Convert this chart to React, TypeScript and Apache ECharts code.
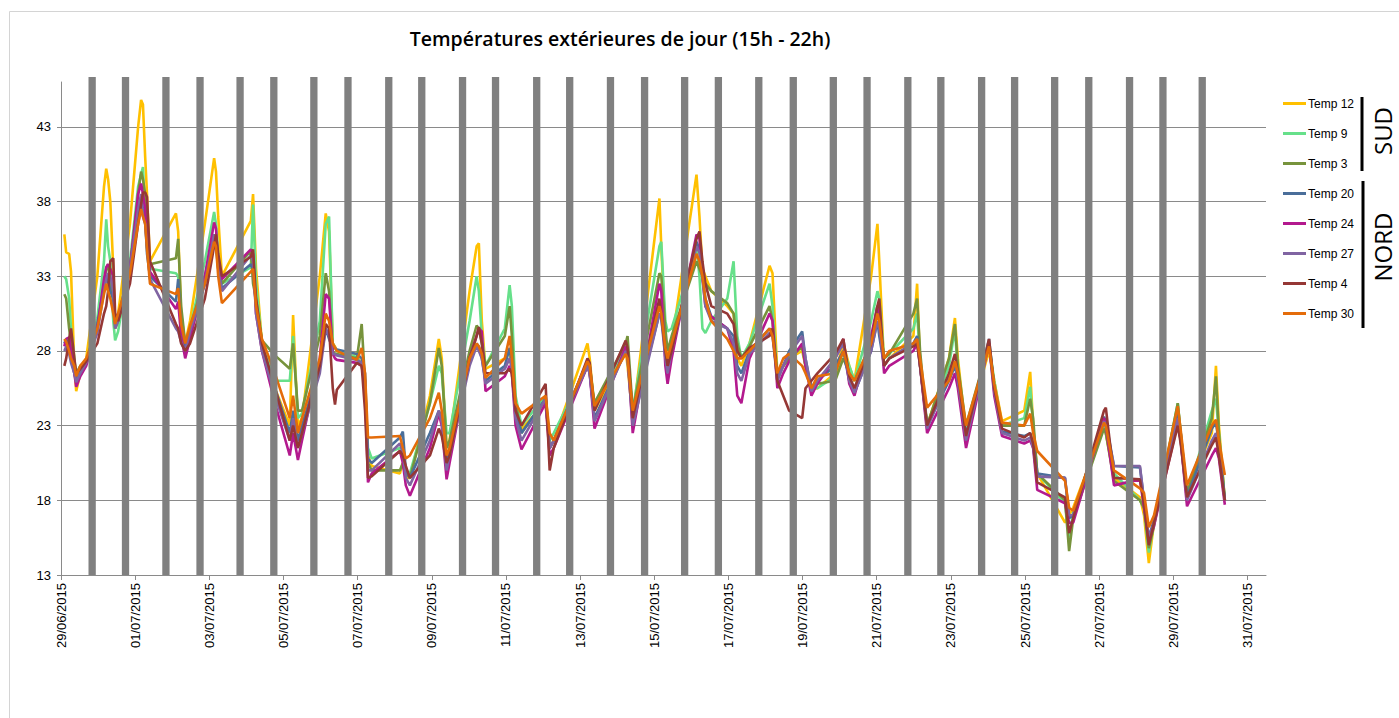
import React, { useEffect, useRef } from "react";
import * as echarts from "echarts";

// X positions of the readings, in days since 29/06/2015 00:00
const dayOffsets = [
  0.09, 0.14, 0.22, 0.27, 0.36, 0.41, 0.52, 0.68, 0.98, 1.16,
  1.22, 1.27, 1.33, 1.41, 1.46, 1.54, 1.86, 2.08, 2.16, 2.21,
  2.27, 2.32, 2.40, 3.10, 3.16, 3.24, 3.35, 3.48, 3.88, 4.13,
  4.18, 4.24, 4.34, 5.12, 5.18, 5.26, 5.42, 5.77, 6.17, 6.26,
  6.39, 6.50, 6.98, 7.14, 7.23, 7.33, 7.39, 7.44, 7.98, 8.11,
  8.20, 8.28, 8.38, 9.14, 9.22, 9.30, 9.41, 9.95, 10.19, 10.27,
  10.40, 10.48, 11.02, 11.21, 11.27, 11.35, 11.45, 11.97, 12.10, 12.16,
  12.26, 12.42, 13.07, 13.18, 13.29, 14.20, 14.26, 14.39, 15.23, 15.28,
  15.42, 16.14, 16.19, 16.30, 16.36, 16.47, 17.14, 17.22, 17.30, 17.38,
  17.54, 17.97, 18.14, 18.24, 18.35, 18.57, 19.11, 19.19, 19.32, 19.48,
  19.64, 19.99, 20.08, 20.24, 20.40, 20.88, 21.10, 21.26, 21.40, 21.85,
  22.02, 22.07, 22.20, 22.34, 22.99, 23.09, 23.17, 23.36, 23.95, 24.11,
  24.19, 24.41, 25.03, 25.17, 25.38, 25.98, 26.14, 26.22, 26.33, 27.08,
  27.19, 27.30, 28.13, 28.18, 28.40, 29.10, 29.21, 29.34, 29.48, 30.12,
  30.20, 30.37, 31.04, 31.15, 31.23, 31.39,
];

const temp12 = [
  35.8, 34.6, 34.5, 33.3, 27.0, 25.3, 26.5, 27.5, 33.0, 39.0,
  40.2, 39.5, 38.0, 33.5, 30.0, 30.5, 36.5, 43.0, 44.8, 44.5,
  41.0, 38.5, 34.0, 37.2, 36.0, 30.5, 28.5, 30.0, 36.5, 40.9,
  40.0, 37.0, 33.0, 36.7, 38.5, 33.5, 28.5, 25.5, 23.0, 30.4,
  23.0, 23.5, 33.0, 37.2, 36.0, 28.5, 28.3, 28.0, 27.8, 27.0,
  26.0, 21.0, 20.3, 19.8, 20.5, 19.5, 19.5, 25.0, 28.8, 27.5,
  21.5, 22.0, 32.0, 35.0, 35.2, 30.0, 26.8, 27.5, 28.0, 26.5,
  24.0, 22.8, 24.5, 21.5, 22.0, 28.5, 27.5, 24.0, 28.0, 27.0,
  23.5, 38.2, 35.0, 29.0, 27.5, 28.5, 39.8, 37.0, 33.5, 33.0,
  32.0, 31.0, 30.5, 27.5, 27.0, 28.5, 33.7, 33.2, 26.5, 27.0,
  27.5, 28.0, 27.0, 25.5, 25.5, 26.5, 28.5, 27.0, 26.0, 33.0,
  36.5, 34.0, 27.0, 27.5, 29.0, 32.5, 27.0, 23.0, 27.5, 30.2,
  27.5, 22.5, 28.0, 26.0, 23.3, 24.0, 26.6, 23.0, 19.8, 16.5,
  17.0, 17.5, 23.0, 22.5, 19.5, 18.2, 17.0, 13.8, 16.5, 23.5,
  22.0, 18.5, 22.5, 27.0, 23.0, 18.0,
];

const temp9 = [
  33.0, 32.8, 31.5, 29.5, 27.5, 26.2, 26.7, 27.2, 30.2, 34.0,
  36.8, 35.0, 34.0, 30.0, 28.7, 29.3, 34.0, 39.0, 39.8, 40.3,
  37.0, 35.0, 33.5, 33.2, 33.0, 29.5, 28.5, 29.5, 34.0, 37.3,
  36.5, 34.5, 32.5, 33.6, 37.8, 32.5, 28.5, 26.0, 26.0, 29.0,
  23.5, 23.8, 30.0, 36.5, 37.0, 28.5, 28.2, 28.0, 27.6, 27.0,
  25.5, 21.5, 20.8, 21.5, 21.0, 20.0, 19.8, 24.5, 27.0, 26.5,
  22.5, 22.5, 30.0, 33.0, 32.0, 29.0, 27.0, 29.5, 32.4, 31.0,
  25.0, 23.0, 25.0, 22.0, 22.5, 27.0, 27.0, 24.5, 28.2, 28.0,
  24.0, 35.0, 35.3, 30.0, 29.3, 29.5, 35.0, 33.0, 29.5, 29.2,
  30.0, 31.5, 34.0, 29.0, 27.5, 28.5, 32.5, 31.0, 26.0, 27.0,
  27.5, 28.3, 27.0, 25.5, 25.5, 26.3, 28.0, 27.0, 26.0, 30.0,
  32.0, 31.5, 27.5, 27.8, 29.5, 30.5, 27.5, 23.0, 27.0, 29.5,
  26.5, 22.5, 28.5, 26.0, 23.0, 23.5, 25.6, 23.0, 19.8, 17.8,
  15.5, 17.2, 23.0, 22.5, 19.8, 18.0, 17.5, 14.5, 16.5, 24.5,
  22.5, 18.3, 24.0, 24.8, 22.5, 18.0,
];

const temp3 = [
  31.8, 31.5, 29.5, 28.5, 27.3, 26.5, 27.0, 27.3, 29.5, 32.5,
  33.5, 33.8, 32.5, 31.5, 29.5, 30.0, 33.5, 38.5, 40.0, 39.5,
  38.5, 36.0, 33.8, 34.2, 35.5, 31.0, 28.5, 29.5, 33.0, 35.8,
  35.0, 34.0, 32.5, 34.7, 32.5, 31.5, 28.7, 27.7, 26.8, 28.5,
  24.0, 24.0, 29.0, 33.2, 32.0, 28.0, 27.8, 27.8, 27.5, 29.8,
  26.0, 20.5, 20.0, 20.0, 20.5, 19.8, 19.5, 24.5, 28.2, 27.0,
  21.5, 22.0, 28.0, 29.7, 29.5, 28.5, 27.0, 29.0, 31.0, 29.0,
  24.5, 22.5, 24.8, 21.5, 22.0, 27.0, 26.5, 24.5, 28.5, 29.0,
  24.0, 33.2, 33.0, 29.5, 28.0, 29.0, 34.0, 33.5, 33.0, 32.5,
  32.0, 31.2, 30.5, 28.5, 27.5, 28.3, 31.0, 30.0, 26.5, 27.0,
  27.5, 28.3, 27.0, 25.5, 25.8, 26.0, 27.5, 26.5, 26.0, 28.5,
  31.0, 30.0, 27.5, 27.8, 30.5, 31.5, 28.0, 23.0, 27.5, 29.8,
  27.0, 23.0, 28.5, 25.5, 23.0, 23.0, 24.8, 23.5, 19.8, 18.0,
  14.6, 16.8, 22.8, 22.5, 19.3, 18.0, 17.5, 14.8, 16.3, 24.5,
  22.5, 18.5, 23.5, 26.3, 22.5, 18.0,
];

const temp20 = [
  28.5, 28.8, 28.3, 27.5, 26.5, 26.0, 26.8, 27.3, 29.8, 32.3,
  33.0, 32.6, 32.0, 31.5, 29.8, 30.2, 33.7, 37.5, 38.2, 37.5,
  36.8, 34.5, 33.0, 31.3, 32.8, 29.5, 28.2, 29.0, 32.5, 35.3,
  35.0, 33.5, 32.2, 33.8, 33.5, 31.0, 28.3, 25.5, 22.5, 24.0,
  22.0, 23.0, 27.0, 29.5, 28.8, 28.2, 28.2, 28.1, 27.8, 27.5,
  26.5, 20.8, 20.5, 22.2, 22.6, 20.0, 19.5, 22.5, 24.0, 23.5,
  20.5, 21.5, 27.5, 28.5, 28.3, 27.5, 26.0, 27.0, 28.2, 27.0,
  24.0, 22.5, 24.8, 21.5, 22.0, 27.3, 26.5, 23.5, 28.0, 27.5,
  23.5, 30.5, 30.2, 28.0, 26.5, 28.0, 35.3, 34.8, 33.0, 31.5,
  30.3, 29.5, 29.0, 27.0, 26.5, 28.0, 29.5, 29.2, 26.3, 27.0,
  28.0, 29.3, 27.5, 25.5, 26.0, 27.0, 28.0, 26.0, 25.2, 28.0,
  30.0, 29.0, 27.0, 27.5, 28.5, 29.0, 27.0, 23.0, 26.0, 27.0,
  26.0, 22.3, 28.8, 25.5, 22.6, 22.3, 22.5, 21.8, 19.8, 19.5,
  16.8, 17.0, 23.6, 23.3, 20.3, 20.2, 18.0, 15.5, 16.7, 23.8,
  22.5, 18.2, 22.8, 23.2, 21.8, 18.0,
];

const temp24 = [
  28.3, 28.8, 28.9, 28.0, 26.5, 25.6, 26.3, 27.0, 29.5, 32.8,
  33.6, 33.8, 33.5, 33.0, 30.0, 30.0, 33.5, 38.5, 39.2, 38.5,
  37.5, 35.5, 33.3, 30.8, 31.3, 29.0, 27.5, 28.8, 33.0, 36.6,
  36.2, 34.0, 32.8, 34.8, 34.5, 30.5, 28.0, 24.5, 21.0, 22.5,
  20.7, 22.0, 27.5, 31.8, 31.5, 27.8, 27.5, 27.4, 27.2, 27.0,
  25.5, 19.2, 19.8, 21.3, 20.5, 19.0, 18.3, 21.5, 23.8, 23.0,
  19.4, 20.5, 27.5, 29.0, 29.5, 29.3, 25.3, 26.3, 27.0, 26.5,
  23.0, 21.4, 24.5, 21.0, 21.5, 27.0, 26.5, 22.8, 28.3, 28.0,
  22.5, 32.5, 32.0, 27.0, 25.8, 27.5, 35.8, 35.5, 33.0, 31.0,
  30.3, 29.5, 28.0, 25.0, 24.5, 27.5, 30.5, 30.0, 25.5, 26.5,
  27.3, 28.5, 27.0, 25.0, 25.8, 27.5, 28.8, 25.8, 25.0, 29.0,
  31.0, 30.5, 26.5, 27.0, 28.0, 28.5, 27.0, 22.5, 25.5, 26.5,
  25.5, 21.5, 28.5, 25.0, 22.3, 21.8, 22.0, 21.5, 18.7, 17.8,
  16.5, 16.5, 23.5, 23.0, 19.0, 19.4, 17.5, 15.3, 16.3, 23.2,
  22.0, 17.6, 21.0, 21.5, 20.8, 17.7,
];

const temp27 = [
  28.0, 28.3, 27.8, 27.2, 26.5, 25.9, 26.5, 27.2, 29.2, 32.0,
  32.8, 33.2, 33.0, 32.0, 29.5, 30.0, 33.5, 37.5, 38.5, 37.0,
  36.5, 35.0, 32.8, 29.5, 29.3, 28.6, 28.0, 29.3, 32.5, 35.8,
  35.5, 33.5, 32.0, 34.4, 34.0, 30.5, 28.0, 25.0, 22.0, 23.5,
  21.5, 22.5, 26.5, 29.5, 29.0, 27.8, 27.8, 27.7, 27.4, 27.2,
  26.0, 20.0, 20.0, 21.8, 21.2, 19.5, 19.0, 22.0, 24.0, 23.2,
  20.0, 21.0, 27.0, 28.3, 28.0, 27.5, 25.8, 26.8, 27.5, 26.8,
  23.5, 22.0, 24.8, 21.5, 22.0, 27.0, 26.5, 23.3, 28.0, 27.5,
  23.0, 30.5, 30.2, 27.5, 26.5, 28.0, 35.0, 34.6, 32.8, 31.0,
  30.0, 29.5, 28.5, 26.5, 26.0, 27.8, 29.2, 29.0, 26.0, 27.0,
  27.8, 29.0, 27.5, 25.3, 26.0, 27.5, 28.5, 26.0, 25.2, 28.0,
  30.0, 29.5, 27.0, 27.5, 28.5, 28.8, 27.0, 22.8, 26.3, 27.3,
  26.0, 22.0, 28.5, 25.3, 22.5, 22.0, 22.2, 21.5, 19.6, 19.5,
  17.0, 17.0, 23.3, 23.0, 20.3, 20.3, 18.0, 15.5, 16.5, 23.5,
  22.0, 18.0, 22.0, 22.5, 21.2, 18.0,
];

const temp4 = [
  27.0, 27.5, 28.8, 29.5, 27.5, 26.5, 26.8, 27.3, 28.5, 30.5,
  31.0, 32.0, 34.0, 34.2, 30.5, 30.0, 32.5, 36.5, 37.8, 38.6,
  38.6, 38.3, 34.0, 29.8, 29.5, 28.5, 28.0, 28.5, 31.5, 35.0,
  35.8, 34.5, 33.0, 34.3, 34.8, 31.5, 28.5, 25.5, 22.0, 23.0,
  21.5, 22.5, 27.0, 29.8, 29.5, 25.5, 24.4, 25.4, 27.2, 27.0,
  24.0, 19.5, 19.6, 21.3, 21.0, 20.3, 19.5, 21.0, 22.8, 22.3,
  20.5, 21.0, 27.5, 29.0, 29.6, 28.5, 26.5, 26.5, 26.8, 26.5,
  24.0, 23.0, 25.8, 20.0, 21.5, 27.5, 27.2, 24.0, 28.7, 28.2,
  23.5, 31.5, 30.5, 28.0, 27.0, 28.0, 35.5, 36.0, 34.0, 32.5,
  31.0, 30.5, 29.8, 28.0, 27.5, 28.2, 29.0, 29.5, 26.0, 25.0,
  24.0, 23.5, 25.5, 26.0, 26.5, 27.8, 28.8, 26.3, 25.5, 28.5,
  31.0, 31.5, 27.0, 27.5, 28.3, 28.5, 27.0, 23.0, 26.5, 27.8,
  26.5, 22.3, 28.8, 25.5, 22.8, 22.2, 22.5, 21.8, 19.2, 18.2,
  15.8, 16.8, 24.0, 24.2, 19.5, 19.4, 17.8, 15.0, 16.5, 23.0,
  21.8, 18.2, 21.7, 22.2, 21.0, 18.0,
];

const temp30 = [
  28.8, 28.6, 28.0, 27.5, 27.0, 26.3, 27.0, 27.5, 29.5, 31.8,
  32.5, 32.0, 31.5, 30.5, 29.8, 30.5, 33.2, 36.5, 37.5, 37.0,
  36.5, 34.8, 32.5, 31.8, 32.2, 29.8, 28.5, 29.7, 32.5, 35.3,
  35.0, 33.0, 31.2, 33.3, 33.5, 31.0, 28.8, 26.5, 23.5, 25.0,
  22.5, 23.5, 27.5, 30.5, 30.0, 28.5, 28.2, 28.0, 27.4, 28.2,
  26.5, 22.2, 22.2, 22.3, 21.5, 20.8, 21.0, 23.5, 25.2, 24.0,
  21.0, 21.5, 27.5, 28.5, 28.3, 27.8, 26.2, 27.5, 29.0, 27.5,
  24.5, 23.8, 25.0, 22.5, 22.0, 27.3, 27.0, 24.3, 27.8, 27.5,
  24.0, 31.0, 30.5, 28.2, 27.5, 28.5, 34.5, 34.0, 33.0, 31.5,
  30.0, 28.8, 28.0, 27.5, 27.5, 28.0, 29.5, 29.0, 26.5, 27.5,
  27.8, 27.0, 26.5, 25.5, 26.3, 26.5, 28.0, 26.5, 26.0, 28.5,
  30.5, 30.0, 27.5, 28.0, 28.5, 28.8, 27.5, 24.2, 26.0, 27.3,
  26.5, 23.0, 28.3, 25.8, 23.2, 23.0, 23.8, 22.5, 21.3, 19.3,
  17.5, 17.3, 23.2, 23.0, 20.0, 18.8, 18.5, 16.2, 17.0, 24.3,
  22.7, 19.0, 23.0, 23.4, 22.0, 19.7,
];

// Gray separator columns (days since 29/06/2015), all reaching the same height
const nightMarks = [
  0.84, 1.74, 2.83, 3.75, 4.83, 5.74, 6.82, 7.74, 8.84, 9.73,
  10.83, 11.72, 12.83, 13.72, 14.82, 15.74, 16.82, 17.73, 18.82, 19.75,
  20.83, 21.74, 22.84, 23.73, 24.83, 25.72, 26.80, 27.72, 28.82, 29.72,
  30.78,
];
const nightMarkTop = 46.33;

const seriesNames = ["Temp 12", "Temp 9", "Temp 3", "Temp 20", "Temp 24", "Temp 27", "Temp 4", "Temp 30"];
const seriesValues = [temp12, temp9, temp3, temp20, temp24, temp27, temp4, temp30];
const seriesColors = ["#FFC000", "#66E08A", "#77933C", "#4A6E9A", "#B3198E", "#8064A2", "#953735", "#E46C0A"];

const dateLabels = [
  "29/06/2015", "01/07/2015", "03/07/2015", "05/07/2015", "07/07/2015", "09/07/2015",
  "11/07/2015", "13/07/2015", "15/07/2015", "17/07/2015", "19/07/2015", "21/07/2015",
  "23/07/2015", "25/07/2015", "27/07/2015", "29/07/2015", "31/07/2015",
];
const xTickValues = dateLabels.map((_, i) => i * 2);
const yTicks = [13, 18, 23, 28, 33, 38, 43];
const Y_MIN = 13;
const Y_MAX = 46;
const X_MAX = 32.5;

const title = "Températures extérieures de jour (15h - 22h)";

export default function App() {
  const ref = useRef<HTMLDivElement>(null);

  useEffect(() => {
    if (!ref.current) return;
    const chart = echarts.init(ref.current, undefined, { renderer: "svg" });

    const lineSeries = seriesNames.map((name, si) => ({
      type: "line",
      name,
      data: dayOffsets.map((d, i) => [d, seriesValues[si][i]]),
      symbol: "none",
      showSymbol: false,
      lineStyle: { width: 2.6, color: seriesColors[si] },
      itemStyle: { color: seriesColors[si] },
      z: 3,
      silent: true,
    }));

    const option: any = {
      animation: false,
      backgroundColor: "#ffffff",
      grid: { left: 61, right: 133, top: 82, bottom: 143, containLabel: false },
      xAxis: {
        type: "value",
        min: 0,
        max: X_MAX,
        interval: 2,
        axisLine: { show: true, lineStyle: { color: "#8a8a8a", width: 1 } },
        axisTick: { show: true, length: 5, lineStyle: { color: "#8a8a8a" }, customValues: xTickValues },
        axisLabel: {
          customValues: xTickValues,
          rotate: 90,
          margin: 8,
          fontSize: 13,
          fontFamily: "'Liberation Sans', Arial, sans-serif",
          color: "#000",
          formatter: (v: number) => {
            const idx = Math.round(v / 2);
            return Math.abs(v - idx * 2) < 1e-6 && dateLabels[idx] ? dateLabels[idx] : "";
          },
        },
        splitLine: { show: false },
      },
      yAxis: {
        type: "value",
        min: Y_MIN,
        max: Y_MAX,
        interval: 5,
        axisLine: { show: true, lineStyle: { color: "#8a8a8a", width: 1 } },
        axisTick: { show: true, length: 4, lineStyle: { color: "#8a8a8a" }, customValues: yTicks },
        axisLabel: {
          customValues: yTicks,
          margin: 10,
          fontSize: 13,
          fontFamily: "'Liberation Sans Narrow', 'Liberation Sans', Arial, sans-serif",
          color: "#000",
          formatter: (v: number) => (yTicks.includes(v) ? String(v) : ""),
        },
        splitLine: { show: false },
      },
      legend: {
        orient: "vertical",
        left: 1283,
        top: 96.5,
        padding: 0,
        icon: "rect",
        itemWidth: 23,
        itemHeight: 3,
        itemGap: 16,
        data: seriesNames,
        textStyle: {
          fontSize: 12,
          lineHeight: 14,
          fontFamily: "'Liberation Sans', Arial, sans-serif",
          color: "#000",
          padding: [0, 0, 0, -3],
        },
      },
      series: [
        {
          type: "line",
          name: "grid",
          data: [],
          silent: true,
          markLine: {
            silent: true,
            symbol: "none",
            z: 1,
            label: { show: false },
            lineStyle: { color: "#8a8a8a", width: 1, type: "solid" },
            data: yTicks.filter((t) => t > Y_MIN).map((t) => ({ yAxis: t })),
          },
        },
        ...lineSeries,
        {
          type: "custom",
          name: "nuit",
          silent: true,
          z: 5,
          clip: false,
          data: nightMarks.map((d) => [d, nightMarkTop]),
          encode: { x: 0, y: 1 },
          renderItem: (_params: any, api: any) => {
            const top = api.coord([api.value(0), api.value(1)]);
            const bottom = api.coord([api.value(0), Y_MIN]);
            const w = 7.3;
            return {
              type: "rect",
              shape: { x: top[0] - w / 2, y: top[1], width: w, height: bottom[1] - top[1] },
              style: { fill: "#808080" },
            };
          },
        },
      ],
      graphic: [
        {
          type: "rect",
          silent: true,
          z: -10,
          shape: { x: 9.5, y: 11.5, width: 1400, height: 720 },
          style: { fill: "none", stroke: "#d4d4d4", lineWidth: 1 },
        },
        {
          type: "text",
          silent: true,
          x: 620,
          y: 38,
          style: {
            text: title,
            fontSize: 19.5,
            fontWeight: 600,
            fontFamily: "'Open Sans', 'Noto Sans', sans-serif",
            fill: "#000",
            align: "center",
            verticalAlign: "middle",
          },
        },
        {
          type: "line",
          silent: true,
          shape: { x1: 1362, y1: 97, x2: 1362, y2: 171 },
          style: { stroke: "#000", lineWidth: 3 },
        },
        {
          type: "line",
          silent: true,
          shape: { x1: 1363, y1: 181, x2: 1363, y2: 328 },
          style: { stroke: "#000", lineWidth: 3 },
        },
        {
          type: "text",
          silent: true,
          x: 1382,
          y: 131,
          rotation: Math.PI / 2,
          style: {
            text: "SUD",
            fontSize: 24,
            fontFamily: "'Open Sans', 'Noto Sans', sans-serif",
            fill: "#000",
            align: "center",
            verticalAlign: "middle",
          },
        },
        {
          type: "text",
          silent: true,
          x: 1382,
          y: 247,
          rotation: Math.PI / 2,
          style: {
            text: "NORD",
            fontSize: 24,
            fontFamily: "'Open Sans', 'Noto Sans', sans-serif",
            fill: "#000",
            align: "center",
            verticalAlign: "middle",
          },
        },
      ],
    };

    chart.setOption(option);
    return () => chart.dispose();
  }, []);

  return (
    <div
      ref={ref}
      style={{ position: "absolute", left: 0, top: 0, width: 1399, height: 718, background: "#fff" }}
    />
  );
}
